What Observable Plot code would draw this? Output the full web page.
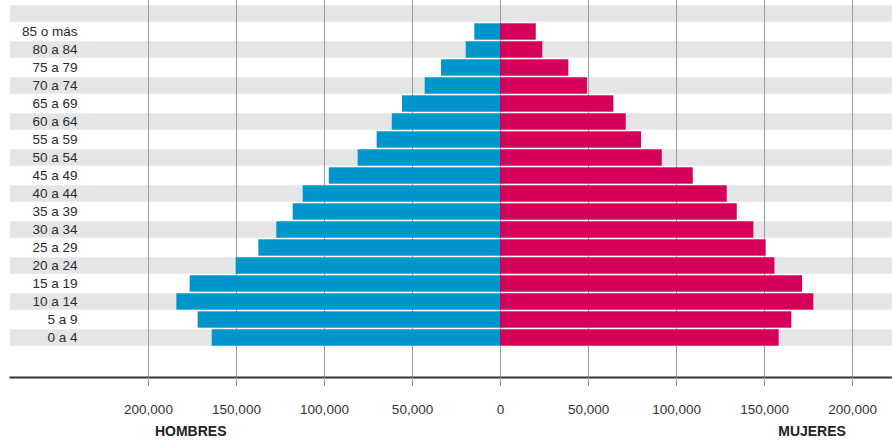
<!DOCTYPE html>
<html>
<head>
<meta charset="utf-8">
<script src="https://cdn.jsdelivr.net/npm/d3@7"></script>
<script src="https://cdn.jsdelivr.net/npm/@observablehq/plot@0.6"></script>
<style>
  html, body { margin: 0; padding: 0; background: #fff; }
  #chart svg { display: block; font-family: "Liberation Sans", Arial, sans-serif; }
</style>
</head>
<body>
<div id="chart"></div>
<script>
// Age groups, oldest at the top; the blank first group is an empty spacer row
const ageGroups = ["", "85 o más", "80 a 84", "75 a 79", "70 a 74", "65 a 69", "60 a 64",
  "55 a 59", "50 a 54", "45 a 49", "40 a 44", "35 a 39", "30 a 34", "25 a 29",
  "20 a 24", "15 a 19", "10 a 14", "5 a 9", "0 a 4"];

// Population per age group (same order as ageGroups, spacer excluded)
const hombres = [14600, 19500, 33500, 42800, 55700, 61500, 70100, 80900, 97300,
  112100, 117800, 127100, 137300, 150200, 176300, 183900, 171800, 163800];
const mujeres = [20300, 24000, 38800, 49400, 64400, 71400, 80100, 91900, 109500,
  128800, 134500, 143900, 150900, 155900, 171600, 178000, 165500, 158300];

const xTicks = [-200000, -150000, -100000, -50000, 0, 50000, 100000, 150000, 200000];
const sexLabels = [
  {text: "HOMBRES", value: -176000},
  {text: "MUJERES", value: 177000}
];

const groups = ageGroups.slice(1);
const rows = groups.flatMap((age, i) => [
  {age, sex: "Hombres", x1: -hombres[i], x2: 0},
  {age, sex: "Mujeres", x1: 0, x2: mujeres[i]}
]);
const stripes = ageGroups.filter((d, i) => i % 2 === 0);

const fmt = d3.format(",");

const chart = Plot.plot({
  width: 892,
  height: 447,
  marginLeft: 10,
  marginRight: 0,
  marginTop: 0,
  marginBottom: 70,
  style: {background: "#fff", fontFamily: "'Liberation Sans', Arial, sans-serif"},
  x: {domain: [-278400, 222700]},
  y: {type: "band", domain: ageGroups, range: [3, 346], padding: 0},
  color: {domain: ["Hombres", "Mujeres"], range: ["#0096cd", "#d4005a"]},
  marks: [
    // alternating gray stripes behind the rows
    Plot.cell(stripes, {y: d => d, fill: "#e4e5e7", insetTop: 1.3, insetBottom: 0.3}),
    // vertical grid lines
    Plot.ruleX(xTicks, {stroke: "#9a9a9a", strokeWidth: 1}),
    // pyramid bars
    Plot.barX(rows, {y: "age", x1: "x1", x2: "x2", fill: "sex", insetTop: 1.3, insetBottom: 0.3}),
    // baseline under the pyramid
    Plot.frame({anchor: "bottom", stroke: "#333", strokeWidth: 2}),
    Plot.axisY({
      anchor: "left", tickSize: 0, tickPadding: 3, dx: 70,
      fontSize: 13.5, fill: "#2a2a2a", label: null
    }),
    Plot.axisX({
      ticks: xTicks, tickSize: 9, tickPadding: 18, stroke: "#9a9a9a",
      tickFormat: d => fmt(Math.abs(d)), fontSize: 13.5, fill: "#333", label: null
    }),
    // sex labels under each half of the axis
    Plot.text(sexLabels, {
      x: "value", frameAnchor: "bottom", dy: 58, text: "text",
      fontSize: 14, fontWeight: "bold", fill: "#222"
    })
  ]
});

document.getElementById("chart").append(chart);
</script>
</body>
</html>
